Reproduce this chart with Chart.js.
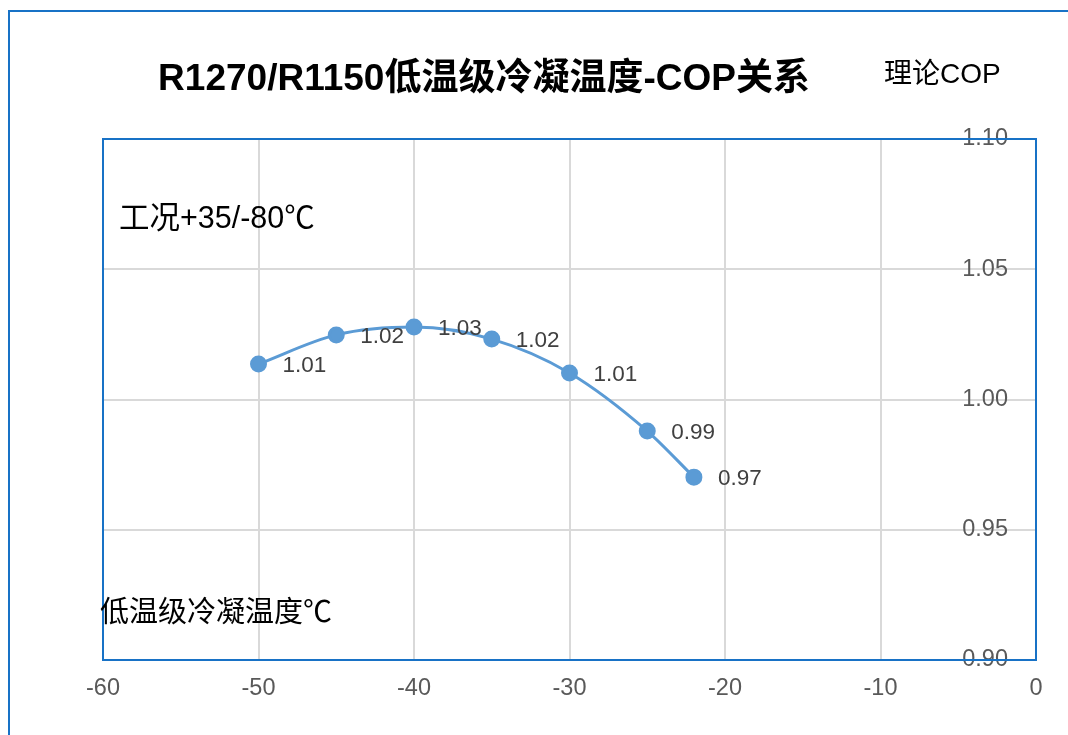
<!DOCTYPE html>
<html lang="zh">
<head>
  <meta charset="UTF-8">
  <title>R1270/R1150低温级冷凝温度-COP关系</title>
  <script src="https://cdn.jsdelivr.net/npm/chart.js"></script>
  <style>
    html, body { margin: 0; padding: 0; background: #fff; }
    #wrap { width: 1068px; height: 735px; }
  </style>
</head>
<body>
  <div id="wrap"><canvas id="copChart"></canvas></div>

  <script>
    // data
    const condTemps = [-50, -45, -40, -35, -30, -25, -22];
    const copValues = [1.0136, 1.0248, 1.0278, 1.0232, 1.0102, 0.9879, 0.9702];
    const xTicks = [-60, -50, -40, -30, -20, -10, 0];
    const yTicks = [0.90, 0.95, 1.00, 1.05, 1.10];

    const titleText = 'R1270/R1150低温级冷凝温度-COP关系';
    const yAxisTitle = '理论COP';
    const xAxisTitle = '低温级冷凝温度℃';
    const noteText = '工况+35/-80℃';

    const FONT = '"Liberation Sans", Arial, "Noto Sans CJK SC", sans-serif';
    const BLUE = '#1872c6';
    const LINE = '#5b9bd5';

    const decorPlugin = {
      id: 'decor',
      afterDraw(chart) {
        const ctx = chart.ctx;
        const a = chart.chartArea;
        ctx.save();
        // outer frame
        ctx.strokeStyle = BLUE;
        ctx.lineWidth = 2;
        ctx.strokeRect(9, 11, 1070, 740);
        // plot frame
        ctx.strokeRect(a.left, a.top, a.right - a.left, a.bottom - a.top);

        ctx.fillStyle = '#000';
        ctx.textBaseline = 'middle';
        ctx.textAlign = 'center';
        ctx.font = 'bold 37px ' + FONT;
        ctx.fillText(titleText, 484, 80);

        ctx.textAlign = 'left';
        ctx.font = '28px ' + FONT;
        ctx.fillText(yAxisTitle, 884, 75);
        ctx.font = '30.5px ' + FONT;
        ctx.fillText(noteText, 119, 220);
        ctx.font = '29px ' + FONT;
        ctx.fillText(xAxisTitle, 100, 614);

        // value labels beside each point
        const meta = chart.getDatasetMeta(0);
        ctx.fillStyle = '#404040';
        ctx.font = '22.5px ' + FONT;
        meta.data.forEach((pt, i) => {
          ctx.fillText(copValues[i].toFixed(2), pt.x + 24, pt.y + 2);
        });
        ctx.restore();
      }
    };

    new Chart(document.getElementById('copChart'), {
      type: 'scatter',
      data: {
        datasets: [{
          label: yAxisTitle,
          data: condTemps.map((t, i) => ({ x: t, y: copValues[i] })),
          showLine: true,
          borderColor: LINE,
          backgroundColor: LINE,
          borderWidth: 3,
          pointRadius: 7,
          pointHoverRadius: 7,
          cubicInterpolationMode: 'monotone'
        }]
      },
      options: {
        responsive: true,
        maintainAspectRatio: false,
        animation: false,
        events: [],
        layout: { padding: { left: 103, top: 139, right: 32, bottom: 0 } },
        plugins: {
          legend: { display: false },
          tooltip: { enabled: false }
        },
        scales: {
          x: {
            type: 'linear',
            position: 'bottom',
            min: -60,
            max: 0,
            afterFit: s => { s.height = 75; },
            afterBuildTicks: s => { s.ticks = xTicks.map(v => ({ value: v })); },
            grid: { color: '#d9d9d9', lineWidth: 2, drawTicks: false },
            border: { color: BLUE, width: 2 },
            ticks: {
              padding: 14,
              color: '#595959',
              font: { family: FONT, size: 23.5 }
            }
          },
          y: {
            type: 'linear',
            position: 'right',
            min: 0.90,
            max: 1.10,
            afterFit: s => { s.width = 0; },
            afterBuildTicks: s => { s.ticks = yTicks.map(v => ({ value: v })); },
            grid: { color: '#d9d9d9', lineWidth: 2, drawTicks: false },
            border: { color: BLUE, width: 2 },
            ticks: {
              mirror: true,
              padding: -28,
              color: '#595959',
              font: { family: FONT, size: 23.5 },
              callback: v => v.toFixed(2)
            }
          }
        }
      },
      plugins: [decorPlugin]
    });
  </script>
</body>
</html>
